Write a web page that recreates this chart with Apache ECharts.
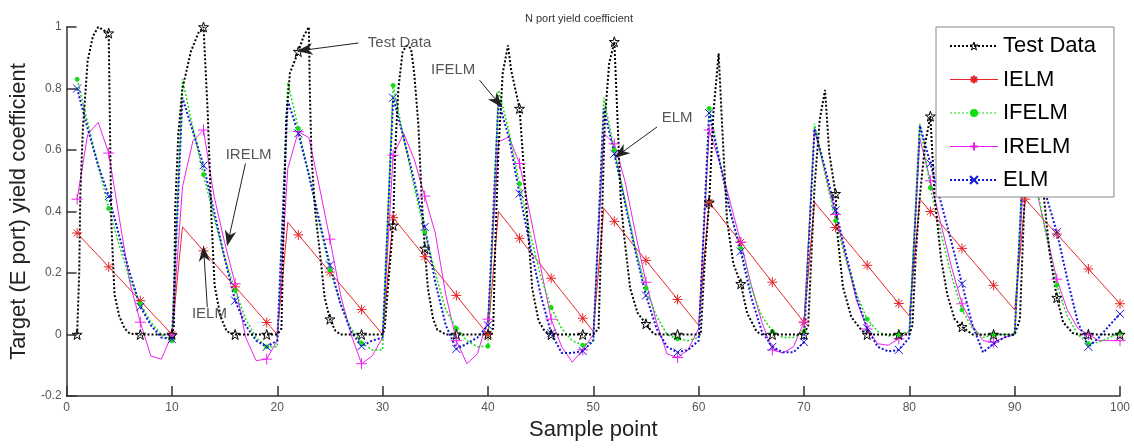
<!DOCTYPE html>
<html>
<head>
<meta charset="utf-8">
<script src="https://cdn.jsdelivr.net/npm/echarts@6/dist/echarts.min.js"></script>
<style>html,body{margin:0;padding:0;background:#fff}#c{width:1134px;height:448px}</style>
</head>
<body>
<div id="c"></div>
<script>
// ---- data ----
const seriesNames = ['Test Data', 'IELM', 'IFELM', 'IRELM', 'ELM'];
const samplePoints = Array.from({length: 100}, (_, i) => i + 1);
const xTicks = [0, 10, 20, 30, 40, 50, 60, 70, 80, 90, 100];
const yTicks = [-0.2, 0, 0.2, 0.4, 0.6, 0.8, 1];

// Test data traced as vertices [sample, value]
const testData = [
  [1,0],[1.2,0.2],[1.3,0.45],[1.55,0.67],[2,0.89],[2.5,0.97],[3,1.0],[3.5,0.99],[4,0.98],[4.1,0.72],[4.25,0.36],[4.55,0.13],[5,0.06],[5.5,0.02],[6,0.003],[7,0],[8,0],[9,0],[10,0],
  [10.2,0.03],[10.3,0.4],[10.6,0.65],[11,0.8],[11.8,0.92],[12.5,0.98],[13,1.0],[13.4,0.72],[13.75,0.38],[14.05,0.16],[14.6,0.06],[15.2,0.01],[16,0],[17,0],[18,0],[19,0],[20,0],
  [20.4,0.02],[20.6,0.35],[20.85,0.7],[21.2,0.85],[22,0.92],[22.5,0.97],[23,1.0],[23.1,0.78],[23.25,0.58],[23.6,0.4],[24.1,0.25],[24.5,0.12],[25,0.05],[25.5,0.013],[26,0],[27,0],[28,0],[29,0],[30,0],
  [30.2,0.02],[30.5,0.15],[31,0.355],[31.2,0.6],[31.5,0.8],[31.9,0.92],[32.3,0.94],[32.7,0.93],[33,0.85],[33.4,0.68],[33.7,0.45],[34,0.28],[34.3,0.15],[34.8,0.05],[35.2,0.015],[36,0],[37,0],[38,0],[39,0],[40,0],
  [40.5,0.02],[40.7,0.3],[41,0.6],[41.4,0.85],[41.9,0.94],[42.2,0.86],[43,0.735],[43.3,0.59],[43.75,0.37],[44.2,0.15],[44.8,0.045],[45.4,0.01],[46,0],[47,0],[48,0],[49,0],[50,0],
  [50.5,0.02],[50.8,0.35],[51.1,0.7],[51.5,0.88],[52,0.952],[52.3,0.7],[52.6,0.44],[52.9,0.33],[53.5,0.15],[54.2,0.07],[55,0.035],[55.7,0.003],[56,0],[57,0],[58,0],[59,0],[60,0],
  [60.2,0.0],[60.6,0.25],[61,0.43],[61.4,0.72],[61.9,0.914],[62.2,0.7],[62.7,0.37],[63.3,0.23],[64,0.165],[64.6,0.07],[65.5,0.01],[66,0],[67,0],[68,0],[69,0],[70,0],
  [70.4,0.03],[70.7,0.25],[71,0.48],[71.5,0.7],[72,0.795],[72.4,0.59],[73,0.458],[73.2,0.317],[73.7,0.154],[74.5,0.056],[75.5,0.013],[76,0],[77,0],[78,0],[79,0],[80,0],
  [80.3,0.03],[80.6,0.25],[81,0.45],[81.5,0.62],[82,0.71],[82.4,0.45],[83,0.25],[83.6,0.13],[84.3,0.05],[85,0.025],[86,0],[87,0],[88,0],[89,0],[90,0],
  [90.5,0.05],[91,0.5],[91.5,0.72],[92,0.78],[92.4,0.6],[92.8,0.44],[93.3,0.27],[94,0.12],[94.6,0.04],[95.5,0.005],[96,0],[97,0],[98,0],[99,0],[100,0]
];

const ielm = [
  0.33,0.293,0.257,0.22,0.183,0.147,0.11,0.073,0.037,0.0,
  0.35,0.311,0.272,0.233,0.194,0.155,0.117,0.078,0.039,0.0,
  0.365,0.324,0.284,0.243,0.203,0.162,0.122,0.081,0.041,0.0,
  0.38,0.338,0.296,0.253,0.211,0.169,0.127,0.084,0.042,0.0,
  0.40,0.357,0.313,0.27,0.227,0.183,0.14,0.097,0.053,0.01,
  0.41,0.368,0.326,0.283,0.241,0.199,0.157,0.114,0.072,0.03,
  0.43,0.387,0.343,0.30,0.257,0.213,0.17,0.127,0.083,0.04,
  0.43,0.389,0.348,0.307,0.266,0.225,0.184,0.142,0.101,0.06,
  0.44,0.40,0.36,0.32,0.28,0.24,0.20,0.16,0.12,0.08,
  0.44,0.402,0.364,0.327,0.289,0.251,0.213,0.176,0.138,0.10
];
const ifelm = [
  0.83,0.69,0.55,0.41,0.29,0.18,0.10,0.04,0.00,-0.02,
  0.83,0.67,0.52,0.38,0.25,0.143,0.05,-0.01,-0.04,-0.04,
  0.82,0.67,0.52,0.36,0.21,0.10,0.02,-0.028,-0.05,-0.05,
  0.81,0.64,0.48,0.333,0.20,0.08,0.02,-0.02,-0.04,-0.038,
  0.795,0.66,0.49,0.33,0.19,0.088,0.02,-0.02,-0.035,-0.02,
  0.77,0.60,0.44,0.28,0.15,0.06,0.00,-0.014,-0.02,-0.01,
  0.735,0.57,0.40,0.28,0.15,0.06,0.01,-0.01,-0.01,0.01,
  0.686,0.52,0.37,0.24,0.13,0.05,0.01,-0.005,0.0,0.01,
  0.686,0.477,0.33,0.19,0.08,0.02,-0.01,0.0,0.0,0.0,
  0.70,0.50,0.32,0.16,0.06,0.0,-0.03,-0.025,-0.01,0.005
];
const irelm = [
  0.44,0.65,0.69,0.59,0.38,0.17,0.04,-0.07,-0.08,0.0,
  0.48,0.63,0.665,0.45,0.30,0.165,-0.01,-0.085,-0.08,-0.02,
  0.54,0.66,0.64,0.48,0.31,0.13,0.0,-0.095,-0.07,-0.01,
  0.583,0.654,0.57,0.45,0.33,0.13,-0.02,-0.095,-0.063,0.05,
  0.626,0.643,0.556,0.39,0.22,0.05,-0.04,-0.09,-0.05,0.0,
  0.654,0.62,0.50,0.33,0.17,0.04,-0.063,-0.075,-0.05,0.02,
  0.665,0.56,0.43,0.30,0.16,0.04,-0.05,-0.06,-0.04,0.04,
  0.665,0.53,0.39,0.25,0.11,0.018,-0.03,-0.035,-0.014,0.01,
  0.637,0.50,0.36,0.22,0.10,0.03,-0.02,-0.025,-0.01,0.0,
  0.60,0.48,0.33,0.18,0.08,0.02,0.0,-0.02,-0.02,-0.02
];
const elm = [
  0.80,0.67,0.55,0.45,0.32,0.20,0.09,0.03,-0.01,-0.015,
  0.77,0.66,0.55,0.40,0.25,0.11,0.03,-0.02,-0.04,-0.02,
  0.76,0.654,0.52,0.37,0.225,0.10,0.01,-0.038,-0.02,-0.01,
  0.77,0.64,0.50,0.35,0.17,0.03,-0.047,-0.03,-0.01,0.03,
  0.757,0.64,0.458,0.29,0.13,0.004,-0.06,-0.06,-0.054,-0.02,
  0.735,0.588,0.43,0.27,0.127,0.02,-0.04,-0.058,-0.05,-0.02,
  0.72,0.56,0.40,0.27,0.12,0.01,-0.04,-0.058,-0.058,-0.025,
  0.67,0.54,0.404,0.26,0.12,0.02,-0.04,-0.055,-0.05,-0.01,
  0.68,0.556,0.43,0.30,0.165,0.03,-0.058,-0.03,-0.01,0.0,
  0.70,0.58,0.45,0.333,0.18,0.04,-0.04,-0.01,0.03,0.067
];

// annotations: text, text anchor, arrow start, arrow tip (data coords)
const annotTexts = ['Test Data', 'IFELM', 'ELM', 'IRELM', 'IELM'];
const annotTextAt = [[28.6,0.948],[34.6,0.86],[56.5,0.704],[15.1,0.583],[11.9,0.068]];
const annotFrom = [[27.7,0.948],[39.2,0.827],[56.05,0.675],[16.98,0.556],[13.36,0.089]];
const annotTo = [[22.6,0.925],[40.9,0.757],[52.6,0.589],[15.4,0.312],[13.04,0.263]];

// ---- styling ----
const FONT = 'Liberation Sans, Arial, sans-serif';
const SYM_STAR = 'path://M5,0 L6.12,3.45 L9.76,3.45 L6.82,5.59 L7.94,9.05 L5,6.91 L2.06,9.05 L3.18,5.59 L0.24,3.45 L3.88,3.45 Z';
const SYM_AST = 'path://M5,0L5,10M0,5L10,5M1.5,1.5L8.5,8.5M8.5,1.5L1.5,8.5';
const SYM_PLUS = 'path://M5,0L5,10M0,5L10,5';
const SYM_X = 'path://M0,0L10,10M10,0L0,10';
const SYM_ARROW = 'path://M5,0 L10,14 L5,10 L0,14 Z';

function isMarker(x) { return Number.isInteger(x) && (x - 1) % 3 === 0; }
function toData(xs, ys) {
  return xs.map((x, i) => ({ value: [x, ys[i]], symbol: isMarker(x) ? undefined : 'none' }));
}

const chart = echarts.init(document.getElementById('c'), null, {renderer: 'canvas'});

function lineSeries(name, data, color, width, type, symbol, size, fill) {
  return {
    name, type: 'line', data, symbol, symbolSize: size, showSymbol: true,
    lineStyle: { color, width, type },
    itemStyle: { color: fill, borderColor: color, borderWidth: 1 },
    emphasis: { disabled: true }, animation: false, z: 2
  };
}

const axisCommon = {
  axisLine: { onZero: false, lineStyle: { color: '#333', width: 1.5 } },
  axisTick: { inside: true, length: 10, lineStyle: { color: '#333', width: 1.5 } },
  splitLine: { show: false }
};

const option = {
  animation: false,
  backgroundColor: '#fff',
  title: {
    text: 'N port yield coefficient', left: 520, top: 8,
    textStyle: { fontFamily: FONT, fontSize: 11, fontWeight: 'normal', color: '#333' }
  },
  grid: { left: 62, right: 14, top: 27, bottom: 52, containLabel: false },
  xAxis: Object.assign({
    type: 'value', min: 0, max: 100, interval: 10,
    name: 'Sample point', nameLocation: 'middle', nameGap: 22,
    nameTextStyle: { fontFamily: FONT, fontSize: 22, color: '#222' },
    axisLabel: { fontFamily: FONT, fontSize: 12, color: '#555', margin: 6,
      formatter: v => String(v) }
  }, axisCommon),
  yAxis: Object.assign({
    type: 'value', min: -0.2, max: 1, interval: 0.2,
    name: 'Target (E port) yield coefficient', nameLocation: 'middle', nameGap: 32,
    nameTextStyle: { fontFamily: FONT, fontSize: 22, color: '#222' },
    axisLabel: { fontFamily: FONT, fontSize: 12, color: '#555', margin: 5,
      formatter: v => String(+v.toFixed(1)) }
  }, axisCommon),
  legend: {
    orient: 'vertical', left: 936, top: 27,
    padding: [8, 18, 6, 13], itemGap: 11.5, itemWidth: 48, itemHeight: 10,
    backgroundColor: '#fff', borderColor: '#888', borderWidth: 1, borderRadius: 0,
    textStyle: { fontFamily: FONT, fontSize: 22, color: '#000', lineHeight: 22 },
    data: [
      { name: 'Test Data', lineStyle: { width: 2 }, itemStyle: { color: 'rgba(255,255,255,0)', borderColor: '#000', borderWidth: 1 } },
      { name: 'IELM', lineStyle: { width: 1 } },
      { name: 'IFELM', lineStyle: { width: 1 }, itemStyle: { borderWidth: 0 } },
      { name: 'IRELM', lineStyle: { width: 1 } },
      { name: 'ELM', lineStyle: { width: 2 } }
    ],
    selectedMode: false, z: 10
  },
  series: [
    lineSeries('IELM', toData(samplePoints, ielm), '#e8262b', 1, 'solid', SYM_AST, 10, 'rgba(0,0,0,0)'),
    lineSeries('IRELM', toData(samplePoints, irelm), '#ee22ee', 1, 'solid', SYM_PLUS, 11, 'rgba(0,0,0,0)'),
    lineSeries('IFELM', toData(samplePoints, ifelm), '#11dd11', 1.5, [2, 2], 'circle', 4, '#11dd11'),
    lineSeries('ELM', toData(samplePoints, elm), '#1515d8', 2, [2, 2], SYM_X, 8, 'rgba(0,0,0,0)'),
    lineSeries('Test Data', toData(testData.map(p => p[0]), testData.map(p => p[1])), '#000000', 2, [2, 2], SYM_STAR, 10, 'rgba(255,255,255,0)'),
    {
      name: 'annotations', type: 'scatter', symbolSize: 0, silent: true, animation: false, z: 5,
      data: annotTexts.map((t, i) => ({ name: t, value: annotTextAt[i] })),
      label: { show: true, position: 'right', distance: 0, formatter: p => p.name,
        fontFamily: FONT, fontSize: 15, color: '#2a2a2a' },
      markLine: {
        silent: true, animation: false, symbol: ['none', SYM_ARROW], symbolSize: 16,
        symbolKeepAspect: true,
        label: { show: false },
        itemStyle: { color: '#000' },
        lineStyle: { color: '#222', width: 1, type: 'solid' },
        data: annotFrom.map((f, i) => [{ coord: f }, { coord: annotTo[i] }])
      }
    }
  ]
};
chart.setOption(option);
</script>
</body>
</html>
